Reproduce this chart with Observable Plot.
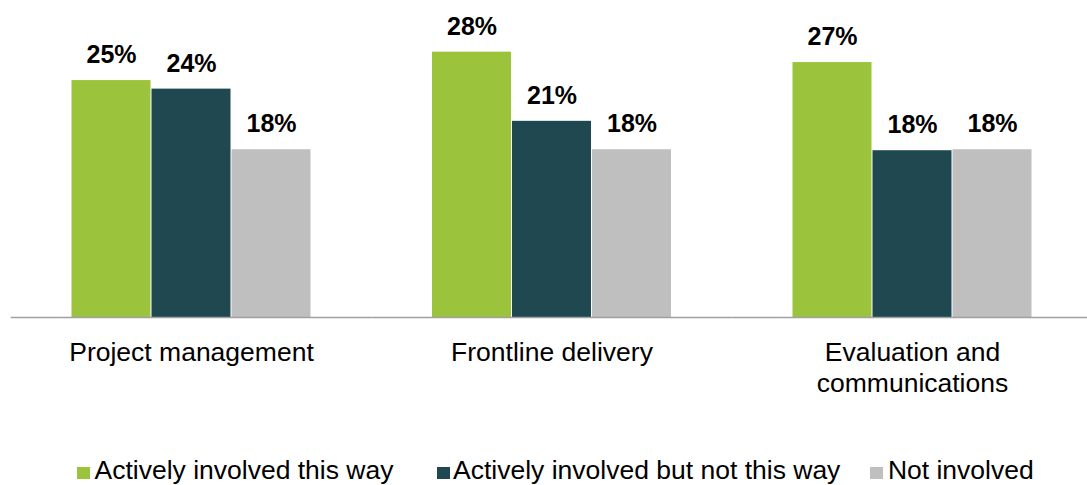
<!DOCTYPE html>
<html><head><meta charset="utf-8">
<script src="https://cdn.jsdelivr.net/npm/d3@7"></script>
<script src="https://cdn.jsdelivr.net/npm/@observablehq/plot@0.6"></script>
<style>
html,body{margin:0;padding:0;background:#fff;overflow:hidden;font-family:"Liberation Sans",Arial,sans-serif;}
#legend{display:flex;align-items:baseline;padding-left:77px;margin-top:25px;font-size:26.5px;line-height:30px;color:#000;white-space:nowrap}
.item{display:flex;align-items:baseline;margin-right:38px}
.item:nth-child(1){margin-right:44px}
.item:nth-child(2){margin-right:30px}
.item:nth-child(2) .sw{margin-right:3px}
.sw{display:inline-block;width:12.5px;height:12px;margin-right:5px}
</style></head><body><div id="chart"></div><div id="legend"></div>
<script>
const categories = ["Project management", "Frontline delivery", "Evaluation and communications"];
const categoryLabels = ["Project management", "Frontline delivery", "Evaluation and\ncommunications"];
const series = ["Actively involved this way", "Actively involved but not this way", "Not involved"];
const colors = ["#9bc33c", "#1f4850", "#bfbfbf"];
const activeThisWay = [25.0, 28.0, 26.9];
const activeNotThisWay = [24.1, 20.7, 17.6];
const notInvolved = [17.7, 17.7, 17.7];

const seriesValues = [activeThisWay, activeNotThisWay, notInvolved];
const rows = [];
categories.forEach((c, i) => {
  series.forEach((s, j) => rows.push({category: c, series: s, value: seriesValues[j][i]}));
});

const font = '"Liberation Sans", Arial, sans-serif';
const plot = Plot.plot({
  width: 1087, height: 430,
  marginTop: 32.7, marginBottom: 113, marginLeft: 10.75, marginRight: -5.25,
  style: {fontFamily: font, background: "#fff", color: "#000"},
  fx: {domain: categories, padding: 0, round: false, label: null},
  x: {domain: series, paddingInner: 0, paddingOuter: 0.753, round: false, axis: null},
  y: {domain: [0, 30], axis: null},
  color: {domain: series, range: colors},
  marks: [
    Plot.barY(rows, {fx: "category", x: "series", y: "value", fill: "series", insetLeft: 0.5, insetRight: 0.5}),
    Plot.ruleY([0], {stroke: "#a0a0a0", strokeWidth: 1.5}),
    Plot.text(rows, {fx: "category", x: "series", y: "value", text: d => `${Math.round(d.value)}%`,
      lineAnchor: "bottom", dy: -17.5, fontSize: 25, fontWeight: "bold", fill: "#000"}),
    Plot.axisFx({anchor: "bottom", tickSize: 0, tickPadding: 21, fontSize: 26.5, lineHeight: 1.17,
      tickFormat: c => categoryLabels[categories.indexOf(c)], fill: "#000", label: null})
  ]
});
document.getElementById("chart").appendChild(plot);

const legend = d3.select("#legend");
series.forEach((s, j) => {
  const it = legend.append("div").attr("class", "item");
  it.append("span").attr("class", "sw").style("background", colors[j]);
  it.append("span").text(s);
});
</script></body></html>
